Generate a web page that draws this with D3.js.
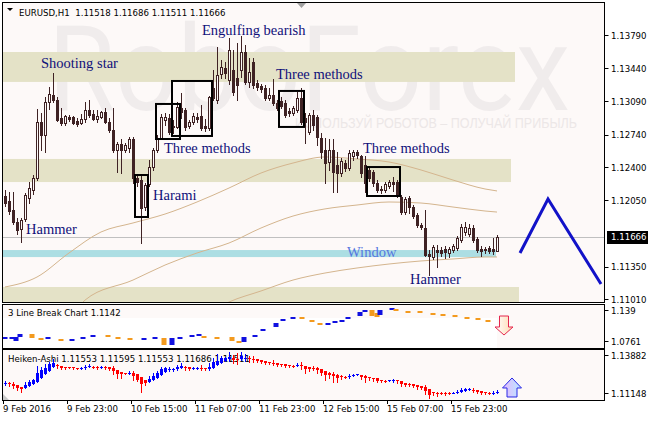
<!DOCTYPE html>
<html><head><meta charset="utf-8">
<script src="https://cdn.jsdelivr.net/npm/d3@7"></script>
<style>
body{margin:0;background:#ffffff;}
svg{display:block;}
</style></head><body>
<svg id="c" width="648" height="421"></svg>
<script>
// ---------- DATA ----------
const symbolTitle = "EURUSD,H1  1.11518 1.11686 1.11511 1.11666";
const opens = [1.1210,1.1204,1.1195,1.1182,1.1175,1.1185,1.1207,1.1216,1.1228,1.1287,1.1274,1.1308,1.1316,1.1311,1.1292,1.1286,1.1293,1.1293,1.1288,1.1286,
1.1291,1.1300,1.1296,1.1291,1.1293,1.1298,1.1287,1.1279,1.1258,1.1264,1.1258,1.1260,1.1269,1.1228,1.1226,1.1198,1.1222,1.1240,1.1258,1.1271,
1.1290,1.1292,1.1283,1.1282,1.1302,1.1300,1.1283,1.1287,1.1293,1.1294,1.1283,1.1281,1.1323,1.1311,1.1338,1.1344,1.1332,1.1342,1.1334,1.1342,
1.1361,1.1330,1.1351,1.1328,1.1325,1.1323,1.1313,1.1316,1.1307,1.1310,1.1307,1.1299,1.1297,1.1300,1.1313,1.1292,1.1277,1.1295,1.1293,1.1271,
1.1258,1.1245,1.1258,1.1242,1.1234,1.1244,1.1239,1.1252,1.1256,1.1252,1.1242,1.1237,1.1235,1.1223,1.1217,1.1216,1.1220,1.1224,1.1224,1.1208,
1.1193,1.1207,1.1198,1.1189,1.1179,1.1176,1.1148,1.1145,1.1153,1.1153,1.1154,1.1150,1.1153,1.1155,1.1163,1.1172,1.1170,1.1176,1.1164,1.1154,
1.1154,1.1155,1.1154,1.11518];
const highs = [1.1216,1.1214,1.1214,1.1186,1.1186,1.1213,1.1224,1.1232,1.1301,1.1297,1.1314,1.1324,1.1339,1.1314,1.1302,1.1295,1.1295,1.1294,1.1292,1.1296,
1.1308,1.1311,1.1300,1.1300,1.1299,1.1302,1.1292,1.1302,1.1266,1.1269,1.1265,1.1272,1.1272,1.1231,1.1232,1.1223,1.1247,1.1260,1.1274,1.1296,
1.1297,1.1296,1.1290,1.1308,1.1318,1.1302,1.1290,1.1297,1.1297,1.1305,1.1291,1.1315,1.1342,1.1366,1.1353,1.1351,1.1376,1.1363,1.1371,1.1378,
1.1369,1.1355,1.1355,1.1332,1.1327,1.1326,1.1323,1.1333,1.1311,1.1314,1.1311,1.1302,1.1304,1.1319,1.1323,1.1297,1.1297,1.1300,1.1295,1.1276,
1.1271,1.1269,1.1269,1.1256,1.1250,1.1247,1.1258,1.1258,1.1258,1.1253,1.1252,1.1240,1.1237,1.1226,1.1220,1.1224,1.1226,1.1229,1.1226,1.1211,
1.1208,1.1210,1.1200,1.1192,1.1181,1.1195,1.1153,1.1158,1.1158,1.1156,1.1157,1.1156,1.1159,1.1167,1.1180,1.1182,1.1180,1.1179,1.1166,1.1157,
1.1156,1.1157,1.1165,1.11686];
const lows = [1.1199,1.1191,1.1180,1.1170,1.1161,1.1183,1.1202,1.1212,1.1226,1.1258,1.1256,1.1301,1.1308,1.1288,1.1284,1.1284,1.1288,1.1285,1.1283,1.1285,
1.1287,1.1293,1.1290,1.1287,1.1292,1.1286,1.1277,1.1256,1.1235,1.1234,1.1256,1.1256,1.1223,1.1220,1.1160,1.1195,1.1220,1.1237,1.1256,1.1269,
1.1284,1.1275,1.1276,1.1281,1.1292,1.1279,1.1281,1.1285,1.1287,1.1279,1.1278,1.1279,1.1311,1.1307,1.1334,1.1334,1.1327,1.1316,1.1311,1.1335,
1.1327,1.1324,1.1323,1.1321,1.1319,1.1311,1.1311,1.1305,1.1300,1.1302,1.1293,1.1294,1.1295,1.1298,1.1285,1.1265,1.1275,1.1279,1.1263,1.1250,
1.1223,1.1237,1.1214,1.1214,1.1231,1.1236,1.1237,1.1247,1.1250,1.1230,1.1214,1.1225,1.1220,1.1214,1.1213,1.1214,1.1218,1.1215,1.1208,1.1191,
1.1191,1.1192,1.1186,1.1177,1.1175,1.1146,1.1126,1.1143,1.1135,1.1146,1.1144,1.1145,1.1151,1.1153,1.1161,1.1168,1.1167,1.1161,1.1151,1.1146,
1.1149,1.1149,1.1148,1.11511];
const closes = [1.1202,1.1194,1.1182,1.1174,1.1184,1.1211,1.1218,1.1228,1.1287,1.1274,1.1308,1.1317,1.1311,1.1290,1.1286,1.1294,1.1291,1.1286,1.1285,1.1291,
1.1300,1.1295,1.1291,1.1294,1.1298,1.1287,1.1279,1.1258,1.1264,1.1258,1.1263,1.1269,1.1228,1.1224,1.1197,1.1221,1.1240,1.1258,1.1271,1.1293,
1.1293,1.1277,1.1282,1.1303,1.1298,1.1282,1.1287,1.1294,1.1291,1.1281,1.1281,1.1314,1.1313,1.1337,1.1345,1.1339,1.1363,1.1319,1.1326,1.1361,
1.1330,1.1340,1.1326,1.1324,1.1322,1.1313,1.1316,1.1307,1.1302,1.1304,1.1295,1.1297,1.1302,1.1313,1.1287,1.1287,1.1295,1.1284,1.1272,1.1256,
1.1244,1.1258,1.1235,1.1234,1.1246,1.1239,1.1255,1.1256,1.1253,1.1234,1.1223,1.1228,1.1223,1.1216,1.1216,1.1222,1.1224,1.1222,1.1211,1.1193,
1.1206,1.1198,1.1188,1.1179,1.1177,1.1147,1.1146,1.1156,1.1151,1.1150,1.1151,1.1154,1.1157,1.1165,1.1177,1.1177,1.1176,1.1163,1.1153,1.1152,
1.1153,1.1152,1.1152,1.11666];
const currentPrice = 1.11666;

const timeTickIdx = [0,16,32,48,64,80,96,112];
const timeLabels = ["9 Feb 2016","9 Feb 23:00","10 Feb 15:00","11 Feb 07:00","11 Feb 23:00","12 Feb 15:00","15 Feb 07:00","15 Feb 23:00"];
const priceTicks = [1.13790,1.13440,1.13090,1.12740,1.12400,1.12050,1.11350,1.11010];

const ma1Idx = [0,8,16,24,32,40,48,56,64,72,80,88,96,104,112,120,123];
const ma1 = [1.11137,1.11242,1.11495,1.11716,1.11811,1.11905,1.12032,1.12179,1.12337,1.12442,1.12506,1.12485,1.12453,1.12369,1.12263,1.12169,1.12148];
const ma2Idx = [18,20,32,40,48,56,64,72,80,88,96,104,112,120,123];
const ma2 = [1.10894,1.10999,1.11210,1.11368,1.11495,1.11600,1.11758,1.11884,1.11959,1.12000,1.12032,1.12021,1.11979,1.11937,1.11926];
const ma3Idx = [52,56,64,72,80,88,96,104,112,120,123];
const ma3 = [1.10894,1.10979,1.11095,1.11210,1.11284,1.11337,1.11379,1.11411,1.11432,1.11453,1.11453];

// support / resistance zones
const zoneTop = [1.13611,1.12485,1.11137];
const zoneBottom = [1.13296,1.12242,1.10979];
const zoneEndIdx = [127.5,126.5,128.5];
const windowTop = 1.11526, windowBottom = 1.11452, windowEndIdx = 122.75;

// pattern boxes
const boxStartIdx = [32.5,37.75,41.75,68.5,90.5];
const boxEndIdx = [35.75,43.75,51.75,74.75,98.75];
const boxTop = [1.12316,1.13064,1.13306,1.13201,1.12400];
const boxBottom = [1.11874,1.12695,1.12727,1.12822,1.12095];

// annotations
const noteText = ["Shooting star","Engulfing bearish","Three methods","Three methods","Three methods","Harami","Hammer","Hammer"];
const noteIdx = [9,49.25,67.75,39.75,89.5,37,5.25,101.25];
const notePrice = [1.13443,1.13791,1.13327,1.12548,1.12548,1.12053,1.11695,1.11168];
const windowNote = "Window", windowNoteIdx = 85.5, windowNotePrice = 1.11458;

// forecast zigzag
const zzIdx = [128.75,135.75,149];
const zzPrice = [1.11495,1.12063,1.11168];

// 3 Line Break sub-chart
const lbTitle = "3 Line Break Chart 1.1142";
const lbAxis = [1.139,1.0761];
const lbIdx = [0,1.75,2.75,3.75,6.75,9,10.75,14,16.75,19.5,22,25.75,28.25,31.25,34.75,37.5,39.75,41.75,43.75,46.75,48.5,49.75,53,56.75,58.5,59.75,62.5,64.5,67.75,69.5,72,74.25,76.75,78.75,80.75,82.5,84.25,85.75,88.75,90,91.75,93,93.75,96.75,97.75,100.75,103.75,107,109.5,112.5,115.5,118.25,120.75];
const lbHigh = [1.0922,1.0922,1.0922,1.0966,1.0966,1.0907,1.0922,1.0893,1.0893,1.0922,1.0951,1.0951,1.0922,1.0907,1.0907,1.0922,1.0907,1.0907,1.0922,1.0951,1.0966,1.0937,1.0922,1.0922,1.0863,1.0922,1.0951,1.1039,1.1127,1.1185,1.1214,1.1214,1.1171,1.1127,1.1127,1.1156,1.1171,1.1214,1.1288,1.1317,1.1317,1.1273,1.1317,1.1346,1.1331,1.1302,1.1302,1.1273,1.1258,1.1244,1.1214,1.1200,1.1171];
const lbLow = [1.0893,1.0907,1.0863,1.0922,1.0907,1.0893,1.0907,1.0878,1.0878,1.0907,1.0937,1.0937,1.0907,1.0893,1.0893,1.0907,1.0805,1.0805,1.0907,1.0937,1.0951,1.0922,1.0907,1.0863,1.0849,1.0849,1.0937,1.1010,1.1068,1.1171,1.1200,1.1200,1.1156,1.1112,1.1112,1.1141,1.1156,1.1200,1.1229,1.1302,1.1229,1.1214,1.1244,1.1331,1.1317,1.1288,1.1288,1.1258,1.1244,1.1229,1.1200,1.1185,1.1141];
const lbUp = [1,1,1,1,0,0,1,0,1,1,1,0,0,0,1,1,0,1,1,1,1,0,0,0,0,1,1,1,1,1,1,0,0,0,1,1,1,1,1,1,0,0,1,1,0,0,0,0,0,0,0,0,0];
const lbArrowIdx = 124.75, lbArrowPrice = 1.1229;
const lbPlainTop = 1.1200, lbPlainEndIdx = 123;

// Heiken-Ashi sub-chart
const haTitle = "Heiken-Ashi 1.11553 1.11595 1.11553 1.11686 1.11511";
const haAxis = [1.13882,1.11148];
const haArrowIdx = 126.75, haArrowPrice = 1.12351;

// ---------- LAYOUT ----------
const bg = "#fdf9f8";
const candleCol = "#3f2224";
const main = {l:3, r:604, t:3, b:302};
const sub1 = {t:305, b:348};
const sub2 = {t:350, b:400};

const svg = d3.select("#c");
const defs = svg.append("defs");
defs.append("clipPath").attr("id","mclip").append("rect").attr("x",main.l).attr("y",main.t).attr("width",main.r-main.l).attr("height",main.b-main.t);
defs.append("clipPath").attr("id","s1clip").append("rect").attr("x",main.l).attr("y",sub1.t).attr("width",main.r-main.l).attr("height",sub1.b-sub1.t);
defs.append("clipPath").attr("id","s2clip").append("rect").attr("x",main.l).attr("y",sub2.t).attr("width",main.r-main.l).attr("height",sub2.b-sub2.t);

const xs = d3.scaleLinear().domain([0,123]).range([5,497]);
const ys = d3.scaleLinear().domain([1.10979,1.14127]).range([main.b,main.t]);
const ys1 = d3.scaleLinear().domain([lbAxis[1],lbAxis[0]]).range([sub1.b,sub1.t]);
const ys2 = d3.scaleLinear().domain([haAxis[1],haAxis[0]]).range([sub2.b,sub2.t]);

// panel backgrounds
svg.append("rect").attr("x",main.l).attr("y",main.t).attr("width",main.r-main.l).attr("height",main.b-main.t).attr("fill",bg);
svg.append("rect").attr("x",main.l).attr("y",sub1.t).attr("width",main.r-main.l).attr("height",sub1.b-sub1.t).attr("fill",bg);
svg.append("rect").attr("x",main.l).attr("y",sub2.t).attr("width",main.r-main.l).attr("height",sub2.b-sub2.t).attr("fill",bg);

const gm = svg.append("g").attr("clip-path","url(#mclip)");

// watermark
gm.append("text").attr("x",48).attr("y",110).attr("font-family","Roboto, 'Open Sans', sans-serif")
  .attr("font-size",118).attr("fill","#f0ecec").attr("textLength",522).attr("lengthAdjust","spacingAndGlyphs").text("RoboForex");
gm.append("text").attr("x",577).attr("y",128).attr("text-anchor","end").attr("font-family","'Liberation Sans', Arial, sans-serif")
  .attr("font-size",14).attr("fill","#ece7e7").attr("textLength",282).attr("lengthAdjust","spacingAndGlyphs").text("ИСПОЛЬЗУЙ РОБОТОВ – ПОЛУЧАЙ ПРИБЫЛЬ");

// zones
gm.selectAll("rect.zone").data(zoneTop.map((t,k)=>({t,b:zoneBottom[k],e:zoneEndIdx[k]}))).join("rect")
  .attr("class","zone").attr("x",main.l).attr("y",d=>ys(d.t)).attr("width",d=>xs(d.e)-main.l).attr("height",d=>ys(d.b)-ys(d.t)).attr("fill","#e4e2c7");
gm.append("rect").attr("x",main.l).attr("y",ys(windowTop)).attr("width",xs(windowEndIdx)-main.l).attr("height",ys(windowBottom)-ys(windowTop)).attr("fill","#acdee3");

// current price line
gm.append("line").attr("x1",main.l).attr("x2",main.r).attr("y1",Math.round(ys(currentPrice))+0.5).attr("y2",Math.round(ys(currentPrice))+0.5).attr("stroke","#c0c0c0");

// moving averages
const maLine = d3.line().x(d=>xs(d[0])).y(d=>ys(d[1])).curve(d3.curveMonotoneX);
[[ma1Idx,ma1],[ma2Idx,ma2],[ma3Idx,ma3]].forEach(([ix,v])=>{
  gm.append("path").attr("d",maLine(ix.map((k,j)=>[k,v[j]]))).attr("fill","none").attr("stroke","#d4b58e").attr("stroke-width",1);
});

// candles
const cand = opens.map((o,i)=>({i,o,h:highs[i],l:lows[i],c:closes[i]}));
const cg = gm.append("g");
cg.selectAll("line").data(cand).join("line")
  .attr("x1",d=>Math.round(xs(d.i))+0.5).attr("x2",d=>Math.round(xs(d.i))+0.5)
  .attr("y1",d=>Math.round(ys(d.h))).attr("y2",d=>Math.round(ys(d.l))+1).attr("stroke",candleCol);
cg.selectAll("rect.bear").data(cand.filter(d=>d.c<d.o)).join("rect").attr("class","bear")
  .attr("x",d=>Math.round(xs(d.i))-1).attr("width",3)
  .attr("y",d=>Math.round(ys(d.o))).attr("height",d=>Math.max(1,Math.round(ys(d.c))-Math.round(ys(d.o))+1)).attr("fill",candleCol);
cg.selectAll("rect.bull").data(cand.filter(d=>d.c>=d.o)).join("rect").attr("class","bull")
  .attr("x",d=>Math.round(xs(d.i))-0.5).attr("width",2)
  .attr("y",d=>Math.round(ys(d.c))+0.5).attr("height",d=>Math.max(0,Math.round(ys(d.o))-Math.round(ys(d.c))))
  .attr("fill",bg).attr("stroke",candleCol).attr("stroke-width",1);

// boxes
gm.selectAll("rect.box").data(boxStartIdx.map((s,k)=>({s,e:boxEndIdx[k],t:boxTop[k],b:boxBottom[k]}))).join("rect")
  .attr("class","box").attr("x",d=>xs(d.s)).attr("y",d=>ys(d.t)).attr("width",d=>xs(d.e)-xs(d.s)).attr("height",d=>ys(d.b)-ys(d.t))
  .attr("fill","none").attr("stroke","#000").attr("stroke-width",2);

// annotation texts
const serif = "'Liberation Serif','Times New Roman',serif";
gm.selectAll("text.note").data(noteText.map((t,k)=>({t,i:noteIdx[k],p:notePrice[k]}))).join("text")
  .attr("class","note").attr("x",d=>xs(d.i)).attr("y",d=>ys(d.p)).attr("font-family",serif).attr("font-size",14.5)
  .attr("fill","#10107a").text(d=>d.t);
gm.append("text").attr("x",xs(windowNoteIdx)).attr("y",ys(windowNotePrice)).attr("font-family",serif).attr("font-size",14.5)
  .attr("fill","#5577e0").text(windowNote);

// zigzag forecast
gm.append("path").attr("d",d3.line().x(d=>xs(d[0])).y(d=>ys(d[1]))(zzIdx.map((k,j)=>[k,zzPrice[j]])))
  .attr("fill","none").attr("stroke","#1212c8").attr("stroke-width",3).attr("stroke-linejoin","miter");

// header
svg.append("path").attr("d","M7,8 L13,8 L10,11 Z").attr("fill","#000");
svg.append("text").attr("x",19).attr("y",16).attr("font-family","'DejaVu Sans',sans-serif").attr("font-size",8.6).attr("fill","#000")
  .attr("xml:space","preserve").text(symbolTitle);
svg.append("path").attr("d","M297,3 L306,3 L301.5,8 Z").attr("fill","#a0a0a0");

// ----- 3 Line Break -----
const g1 = svg.append("g").attr("clip-path","url(#s1clip)");
g1.append("rect").attr("x",main.l).attr("y",Math.round(ys1(lbPlainTop))).attr("width",xs(lbPlainEndIdx)-main.l)
  .attr("height",sub1.b-Math.round(ys1(lbPlainTop))).attr("fill","#ffffff");
g1.selectAll("rect.brick").data(lbIdx.map((k,j)=>({k,h:lbHigh[j],l:lbLow[j],u:lbUp[j]}))).join("rect").attr("class","brick")
  .attr("x",d=>xs(d.k)-2.5).attr("width",5)
  .attr("y",d=>Math.round(ys1(d.h))).attr("height",d=>Math.max(2,Math.round(ys1(d.l))-Math.round(ys1(d.h))))
  .attr("fill",d=>d.u?"#1010e0":"#f39a1e");
g1.append("text").attr("x",8).attr("y",sub1.t+11).attr("font-family","'DejaVu Sans',sans-serif").attr("font-size",8.6).text(lbTitle);
{
  const ax = xs(lbArrowIdx), ay = ys1(lbArrowPrice);
  const grad = defs.append("linearGradient").attr("id","gdown").attr("x1",0).attr("x2",1);
  grad.append("stop").attr("offset",0).attr("stop-color","#ffffff");
  grad.append("stop").attr("offset",1).attr("stop-color","#ffd9b0");
  g1.append("path").attr("transform",`translate(${ax},${ay})`)
    .attr("d","M-4.5,0 H4.5 V11 H9 L0,19 L-9,11 H-4.5 Z").attr("fill","url(#gdown)").attr("stroke","#e4264e").attr("stroke-width",1);
}

// ----- Heiken Ashi -----
const ha = []; let po, pc;
cand.forEach((d,k)=>{
  const c = (d.o+d.h+d.l+d.c)/4;
  const o = k===0 ? (d.o+d.c)/2 : (po+pc)/2;
  ha.push({i:d.i,o,c,h:Math.max(d.h,o,c),l:Math.min(d.l,o,c)});
  po=o; pc=c;
});
const g2 = svg.append("g").attr("clip-path","url(#s2clip)");
const haCol = d=> d.c>=d.o ? "#0000ff" : "#ff0000";
g2.selectAll("line").data(ha).join("line")
  .attr("x1",d=>Math.round(xs(d.i))+0.5).attr("x2",d=>Math.round(xs(d.i))+0.5)
  .attr("y1",d=>Math.round(ys2(d.h))).attr("y2",d=>Math.round(ys2(d.l))+1).attr("stroke",haCol);
g2.selectAll("rect").data(ha).join("rect")
  .attr("x",d=>Math.round(xs(d.i))-1).attr("width",3)
  .attr("y",d=>Math.round(ys2(Math.max(d.o,d.c)))).attr("height",d=>Math.max(1,Math.round(ys2(Math.min(d.o,d.c)))-Math.round(ys2(Math.max(d.o,d.c)))))
  .attr("fill",haCol);
g2.insert("text",":first-child").attr("x",8).attr("y",sub2.t+12).attr("font-family","'DejaVu Sans',sans-serif").attr("font-size",8.6).text(haTitle);
{
  const ax = xs(haArrowIdx), ay = ys2(haArrowPrice);
  const grad = defs.append("linearGradient").attr("id","gup").attr("x1",0).attr("x2",1);
  grad.append("stop").attr("offset",0).attr("stop-color","#e6b8ff");
  grad.append("stop").attr("offset",1).attr("stop-color","#b8e8ff");
  g2.append("path").attr("transform",`translate(${ax},${ay})`)
    .attr("d","M0,0 L9.5,10 H5 V19 H-5 V10 H-9.5 Z").attr("fill","url(#gup)").attr("stroke","#2a2ae6").attr("stroke-width",1);
}
g2.append("path").attr("d",`M${main.l},${sub2.b} L${main.l},${sub2.b-6} L${main.l+6},${sub2.b} Z`).attr("fill","#c8c8c8");

// ----- frames -----
[[main.t,main.b],[sub1.t,sub1.b],[sub2.t,sub2.b]].forEach(([t,b])=>{
  svg.append("rect").attr("x",main.l-0.5).attr("y",t-0.5).attr("width",main.r-main.l+1).attr("height",b-t+1)
    .attr("fill","none").attr("stroke","#000").attr("stroke-width",1);
});

// ----- price axis -----
const axFont = "'DejaVu Sans',sans-serif";
const pa = svg.append("g");
pa.selectAll("line").data(priceTicks).join("line").attr("x1",main.r+0.5).attr("x2",main.r+4.5)
  .attr("y1",d=>Math.round(ys(d))+0.5).attr("y2",d=>Math.round(ys(d))+0.5).attr("stroke","#000");
pa.selectAll("text").data(priceTicks).join("text").attr("x",611).attr("y",d=>ys(d)+3.5)
  .attr("font-family",axFont).attr("font-size",8.6).attr("fill","#000").text(d=>d.toFixed(5));
// current price tag
pa.append("rect").attr("x",607).attr("y",Math.round(ys(currentPrice))-6).attr("width",41).attr("height",13).attr("fill","#000");
pa.append("text").attr("x",611).attr("y",ys(currentPrice)+3.5).attr("font-family",axFont).attr("font-size",8.6).attr("fill","#fff").text(currentPrice.toFixed(5));
// sub axes
[[sub1,lbAxis,v=>v.toString()],[sub2,haAxis,v=>v.toFixed(5)]].forEach(([s,vals,f])=>{
  pa.append("text").attr("x",611).attr("y",s.t+9).attr("font-family",axFont).attr("font-size",8.6).text(f(vals[0]));
  pa.append("text").attr("x",611).attr("y",s.b-3).attr("font-family",axFont).attr("font-size",8.6).text(f(vals[1]));
  pa.append("line").attr("x1",main.r+0.5).attr("x2",main.r+4.5).attr("y1",s.t+5.5).attr("y2",s.t+5.5).attr("stroke","#000");
  pa.append("line").attr("x1",main.r+0.5).attr("x2",main.r+4.5).attr("y1",s.b-6.5).attr("y2",s.b-6.5).attr("stroke","#000");
});

// ----- time axis -----
const ta = svg.append("g");
ta.selectAll("line").data(timeTickIdx).join("line").attr("x1",d=>Math.round(xs(d))-1.5).attr("x2",d=>Math.round(xs(d))-1.5)
  .attr("y1",sub2.b).attr("y2",sub2.b+4).attr("stroke","#000");
ta.selectAll("text").data(timeTickIdx).join("text").attr("x",d=>xs(d)-2).attr("y",412)
  .attr("font-family",axFont).attr("font-size",8.6).attr("fill","#000").text((d,k)=>timeLabels[k]);
</script>
</body></html>
